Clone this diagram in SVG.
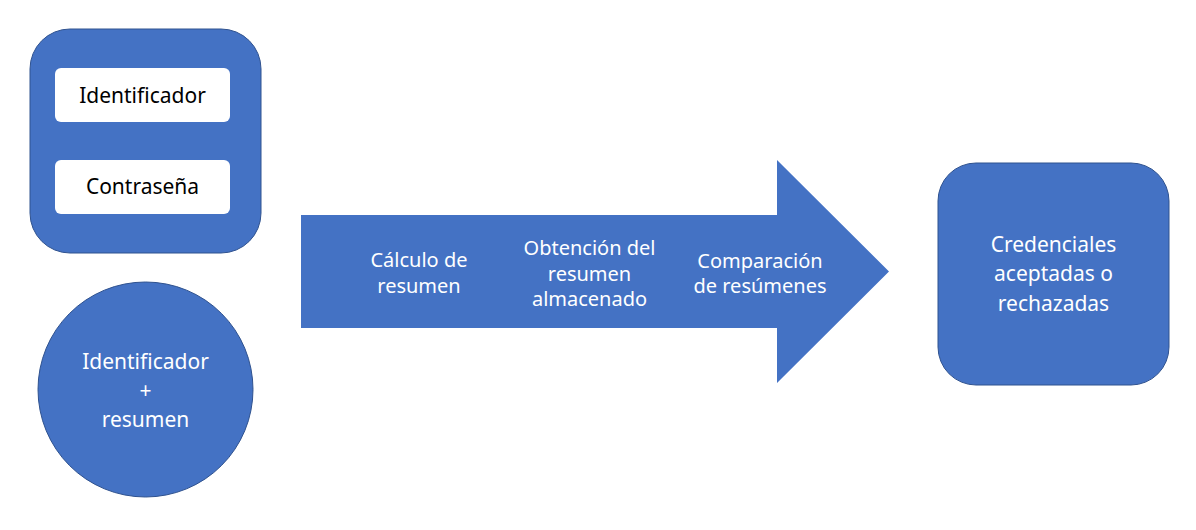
<svg xmlns="http://www.w3.org/2000/svg" width="1196" height="530" viewBox="0 0 1196 530">
  <style>
    .shape { fill: #4472C4; stroke: #2F528F; stroke-width: 1; }
    .arrow { fill: #4472C4; }
    .inner { fill: #FFFFFF; }
    text { font-family: "Noto Sans", "Open Sans", sans-serif; text-anchor: middle; }
    .dark { fill: #000000; font-size: 21px; }
    .light { fill: #FFFFFF; font-size: 21px; }
    .step { fill: #FFFFFF; font-size: 20px; }
  </style>
  <rect width="1196" height="530" fill="#FFFFFF"/>
  <g id="credenciales-entrada">
    <rect class="shape" x="30" y="29" width="231" height="224" rx="40" ry="40"/>
    <g id="identificador">
      <rect class="inner" x="55" y="68" width="175" height="54" rx="6" ry="6"/>
      <text class="dark" x="142.5" y="103">Identificador</text>
    </g>
    <g id="contrasena">
      <rect class="inner" x="55" y="160" width="175" height="54" rx="6" ry="6"/>
      <text class="dark" x="142.5" y="194">Contraseña</text>
    </g>
  </g>
  <g id="almacen">
    <circle class="shape" cx="145.5" cy="389.5" r="107.5"/>
    <text class="light" x="145.5" y="369">Identificador</text>
    <text class="light" x="145.5" y="398">+</text>
    <text class="light" x="145.5" y="427">resumen</text>
  </g>
  <g id="proceso">
    <polygon class="arrow" points="301,215 777,215 777,160 889,271.5 777,383 777,328 301,328"/>
    <g id="paso-calculo">
      <text class="step" x="419" y="267">Cálculo de</text>
      <text class="step" x="419" y="293">resumen</text>
    </g>
    <g id="paso-obtencion">
      <text class="step" x="589.5" y="255">Obtención del</text>
      <text class="step" x="589.5" y="281">resumen</text>
      <text class="step" x="589.5" y="306">almacenado</text>
    </g>
    <g id="paso-comparacion">
      <text class="step" x="760" y="268">Comparación</text>
      <text class="step" x="760" y="293">de resúmenes</text>
    </g>
  </g>
  <g id="resultado">
    <rect class="shape" x="938" y="163" width="231" height="222" rx="38" ry="38"/>
    <text class="light" x="1053.5" y="252">Credenciales</text>
    <text class="light" x="1053.5" y="281">aceptadas o</text>
    <text class="light" x="1053.5" y="311">rechazadas</text>
  </g>
  <g id="connectors"/>
</svg>
